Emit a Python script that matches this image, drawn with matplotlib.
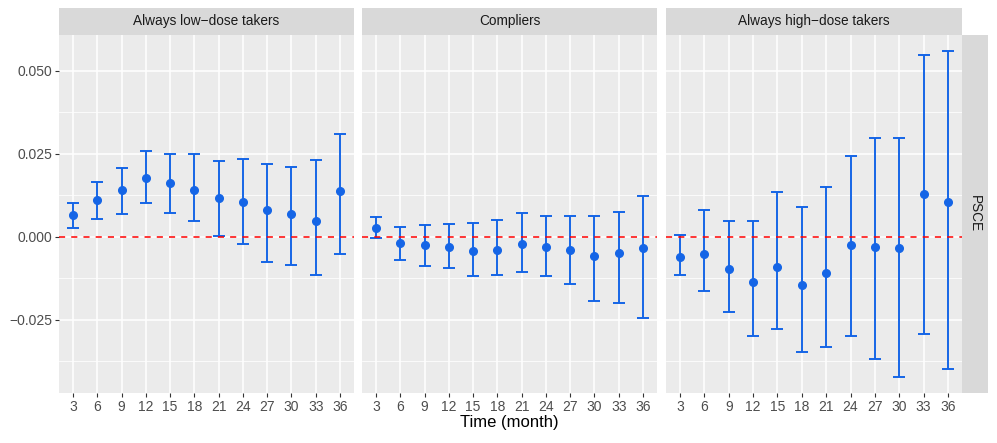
import numpy as np
import matplotlib
matplotlib.use("Agg")
import matplotlib.pyplot as plt

plt.rcParams['font.family'] = ['Liberation Sans', 'DejaVu Sans']

months = [3, 6, 9, 12, 15, 18, 21, 24, 27, 30, 33, 36]
groups = ["Always low\u2212dose takers", "Compliers", "Always high\u2212dose takers"]

# point estimates and interval bounds
low_est = [0.0065, 0.0110, 0.0140, 0.0178, 0.0161, 0.0140, 0.0116, 0.0105, 0.0080, 0.0069, 0.0048, 0.0138]
low_lo = [0.0026, 0.0054, 0.0070, 0.0101, 0.0073, 0.0047, 0.0002, -0.0021, -0.0076, -0.0086, -0.0116, -0.0051]
low_hi = [0.0101, 0.0164, 0.0207, 0.0260, 0.0250, 0.0250, 0.0229, 0.0234, 0.0220, 0.0211, 0.0231, 0.0311]

comp_est = [0.0027, -0.0018, -0.0024, -0.0031, -0.0041, -0.0038, -0.0020, -0.0031, -0.0038, -0.0058, -0.0048, -0.0034]
comp_lo = [-0.0003, -0.0069, -0.0087, -0.0095, -0.0118, -0.0114, -0.0105, -0.0118, -0.0142, -0.0192, -0.0198, -0.0244]
comp_hi = [0.0059, 0.0030, 0.0037, 0.0039, 0.0042, 0.0051, 0.0072, 0.0064, 0.0062, 0.0063, 0.0076, 0.0122]

high_est = [-0.0061, -0.0052, -0.0098, -0.0136, -0.0092, -0.0145, -0.0110, -0.0023, -0.0031, -0.0034, 0.0130, 0.0104]
high_lo = [-0.0116, -0.0163, -0.0226, -0.0298, -0.0278, -0.0346, -0.0330, -0.0297, -0.0369, -0.0423, -0.0292, -0.0397]
high_hi = [0.0006, 0.0080, 0.0049, 0.0048, 0.0135, 0.0089, 0.0149, 0.0245, 0.0299, 0.0298, 0.0549, 0.0559]

series = [(low_est, low_lo, low_hi), (comp_est, comp_lo, comp_hi), (high_est, high_lo, high_hi)]

W, H = 997, 443
fig = plt.figure(figsize=(W / 100, H / 100), dpi=100)

panel_x = [(59, 354), (362, 657), (666, 962)]
top, bottom = 35, 393
blue = "#1565e6"

for i, ((x0, x1), name, (est, lo, hi)) in enumerate(zip(panel_x, groups, series)):
    ax = fig.add_axes([x0 / W, 1 - bottom / H, (x1 - x0) / W, (bottom - top) / H])
    ax.set_facecolor("#ebebeb")
    for s in ax.spines.values():
        s.set_visible(False)
    ax.set_xlim(1.27, 37.73)
    ax.set_ylim(-0.047, 0.0608)
    ax.set_xticks(months)
    ax.set_yticks([-0.025, 0.0, 0.025, 0.05])
    ax.set_yticks([-0.0375, -0.0125, 0.0125, 0.0375], minor=True)
    ax.grid(which="major", color="white", lw=1.1)
    ax.grid(which="minor", axis="y", color="white", lw=0.55)
    ax.set_axisbelow(True)
    ax.tick_params(axis="both", which="major", length=3, width=0.8, color="#333333",
                   labelcolor="#4d4d4d", labelsize=10, pad=2)
    ax.tick_params(which="minor", length=0)
    if i == 0:
        ax.set_yticklabels(["\u22120.025", "0.000", "0.025", "0.050"])
    else:
        ax.tick_params(axis="y", which="major", length=0, labelleft=False)
    if i == 1:
        ax.set_xlabel("Time (month)", fontsize=12, labelpad=1, color="black")

    est = np.array(est)
    yerr = [est - np.array(lo), np.array(hi) - est]
    ax.errorbar(months, est, yerr=yerr, fmt="o", color=blue, ms=5.5, lw=1.4,
                capsize=4.2, capthick=1.4, zorder=3)
    ax.axhline(0, color="#ff0000", lw=1.1, ls=(0, (4, 4)), zorder=4)

    # strip on top
    sax = fig.add_axes([x0 / W, 1 - top / H, (x1 - x0) / W, 27 / H])
    sax.set_facecolor("#d9d9d9")
    sax.set_xticks([])
    sax.set_yticks([])
    for s in sax.spines.values():
        s.set_visible(False)
    sax.text(0.5, 0.5, name, ha="center", va="center", fontsize=9.8, color="#1a1a1a",
             transform=sax.transAxes)

# right strip
rax = fig.add_axes([962 / W, 1 - bottom / H, 26 / W, (bottom - top) / H])
rax.set_facecolor("#d9d9d9")
rax.set_xticks([])
rax.set_yticks([])
for s in rax.spines.values():
    s.set_visible(False)
rax.text(0.5, 0.5, "PSCE", ha="center", va="center", rotation=-90, fontsize=9.8,
         color="#1a1a1a", transform=rax.transAxes)

fig.savefig("out.png", dpi=100)
